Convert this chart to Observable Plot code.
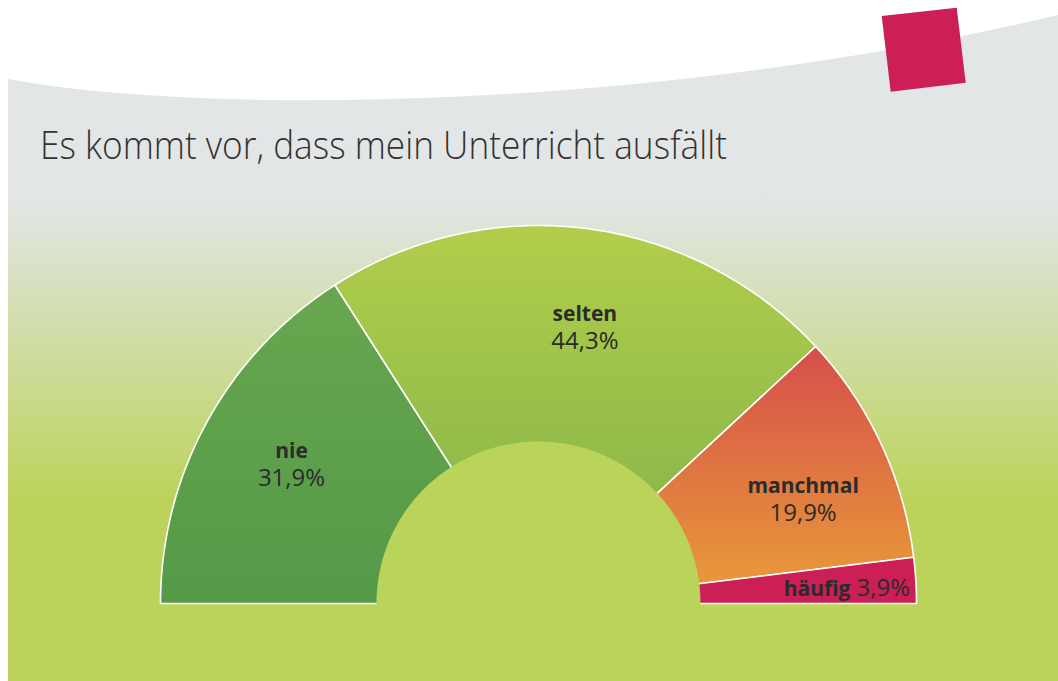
<!DOCTYPE html>
<html>
<head>
<meta charset="utf-8">
<script src="https://cdn.jsdelivr.net/npm/d3@7"></script>
<script src="https://cdn.jsdelivr.net/npm/@observablehq/plot@0.6"></script>
<style>
  html, body { margin: 0; padding: 0; background: #ffffff; }
  #wrap { position: relative; width: 1058px; height: 681px; overflow: hidden; font-family: "Open Sans", "Noto Sans", sans-serif; }
  #bg, #chart { position: absolute; left: 0; top: 0; }
  #chart svg { display: block; }
</style>
</head>
<body>
<div id="wrap">
  <svg id="bg" width="1058" height="681" viewBox="0 0 1058 681">
    <defs>
      <linearGradient id="g-panel" gradientUnits="userSpaceOnUse" x1="0" y1="196" x2="0" y2="500">
        <stop offset="0" stop-color="#e3e6e7"/>
        <stop offset="1" stop-color="#bbd35b"/>
      </linearGradient>
      <linearGradient id="g-nie" x1="0" y1="0" x2="0" y2="1">
        <stop offset="0" stop-color="#69a64f"/>
        <stop offset="1" stop-color="#549a47"/>
      </linearGradient>
      <linearGradient id="g-selten" x1="0" y1="0" x2="0" y2="1">
        <stop offset="0" stop-color="#b2ce4b"/>
        <stop offset="1" stop-color="#7fb049"/>
      </linearGradient>
      <linearGradient id="g-manchmal" x1="0" y1="0" x2="0" y2="1">
        <stop offset="0" stop-color="#d64f4a"/>
        <stop offset="1" stop-color="#e99e39"/>
      </linearGradient>
      <linearGradient id="g-haeufig" x1="0" y1="0" x2="0" y2="1">
        <stop offset="0" stop-color="#cc1f55"/>
        <stop offset="1" stop-color="#cc1f55"/>
      </linearGradient>
    </defs>
    <rect x="0" y="0" width="1058" height="681" fill="#ffffff"/>
    <path d="M8,79 C200,115 650,112 1058,15 L1058,681 L8,681 Z" fill="url(#g-panel)"/>
    <polygon points="881.7,16 956.7,7.7 965.7,82.7 890.7,91.7" fill="#cc1f55"/>
    <text x="40" y="159" font-family="Open Sans, Noto Sans, sans-serif" font-weight="300" font-size="38" fill="#333333" textLength="687" lengthAdjust="spacingAndGlyphs">Es kommt vor, dass mein Unterricht ausfällt</text>
  </svg>
  <div id="chart"></div>
</div>
<script>
// ---- data ----
const categories = ["nie", "selten", "manchmal", "häufig"];
const values = [31.9, 44.3, 19.9, 3.9];
const valueLabels = ["31,9%", "44,3%", "19,9%", "3,9%"];

// ---- styles ----
const gradientIds = ["g-nie", "g-selten", "g-manchmal", "g-haeufig"];
const holeColor = "#bad35b";
const textColor = "#2b2b2b";
const innerRatio = 162 / 378;

// ---- derived geometry (data units: outer radius = 1, centre at 0,0) ----
const total = d3.sum(values);
let cum = 0;
const segments = categories.map((c, i) => {
  const a0 = Math.PI * (1 - cum / total);
  cum += values[i];
  const a1 = Math.PI * (1 - cum / total);
  return {category: c, value: values[i], label: valueLabels[i], a0, a1, fill: `url(#${gradientIds[i]})`};
});

const wedgePoints = [];
for (const s of segments) {
  wedgePoints.push({category: s.category, fill: s.fill, x: 0, y: 0});
  const n = 80;
  for (let k = 0; k <= n; k++) {
    const a = s.a0 + (s.a1 - s.a0) * k / n;
    wedgePoints.push({category: s.category, fill: s.fill, x: Math.cos(a), y: Math.sin(a)});
  }
  wedgePoints.push({category: s.category, fill: s.fill, x: 0, y: 0});
}

const holePoints = d3.range(0, 361).map(k => {
  const a = k * Math.PI / 180;
  return {x: innerRatio * Math.cos(a), y: innerRatio * Math.sin(a)};
});

const labelR = 0.76, labelShift = -2 * Math.PI / 180;
const big = segments.filter(s => s.value >= 10).map(s => {
  const a = (s.a0 + s.a1) / 2 + labelShift;
  return {...s, lx: labelR * Math.cos(a), ly: labelR * Math.sin(a)};
});
const small = segments.filter(s => s.value < 10).map(s => ({...s, lx: 0.983 * Math.cos(s.a1), ly: 0.983 * Math.sin(s.a1)}));

const R = 378; // outer radius in pixels
const chart = Plot.plot({
  width: 1058,
  height: 681,
  margin: 0,
  x: {domain: [-538 / R, 520 / R], axis: null},
  y: {domain: [-78 / R, 603 / R], axis: null},
  color: {type: "identity"},
  style: {background: "transparent", overflow: "visible", fontFamily: "Open Sans, Noto Sans, sans-serif"},
  marks: [
    Plot.line(wedgePoints, {x: "x", y: "y", z: "category", fill: "fill", stroke: "white", strokeWidth: 1.6, strokeLinejoin: "miter"}),
    Plot.line(holePoints, {x: "x", y: "y", fill: holeColor, stroke: "none"}),
    Plot.text(big, {x: "lx", y: "ly", text: d => d.category + "\n" + d.label, lineAnchor: "bottom", lineHeight: 28 / 24, dy: 26, fontSize: 24, fill: textColor}),
    Plot.text(small, {x: "lx", y: "ly", text: d => d.category + " " + d.label, lineAnchor: "bottom", textAnchor: "end", dy: -8, fontSize: 24, fill: textColor})
  ]
});
document.getElementById("chart").appendChild(chart);

// style the category part of each label in bold
const catSet = new Set(categories);
chart.querySelectorAll("text").forEach(t => {
  const spans = t.querySelectorAll("tspan");
  if (spans.length >= 2 && catSet.has(spans[0].textContent)) {
    spans[0].setAttribute("font-weight", "700");
    spans[0].setAttribute("font-size", "21");
    return;
  }
  const txt = t.textContent;
  const seg = segments.find(s => txt === s.category + " " + s.label);
  if (seg) {
    t.textContent = "";
    const ns = "http://www.w3.org/2000/svg";
    const b = document.createElementNS(ns, "tspan");
    b.setAttribute("font-weight", "700");
    b.setAttribute("font-size", "21");
    b.textContent = seg.category;
    const r = document.createElementNS(ns, "tspan");
    r.textContent = " " + seg.label;
    t.appendChild(b);
    t.appendChild(r);
  }
});
</script>
</body>
</html>
